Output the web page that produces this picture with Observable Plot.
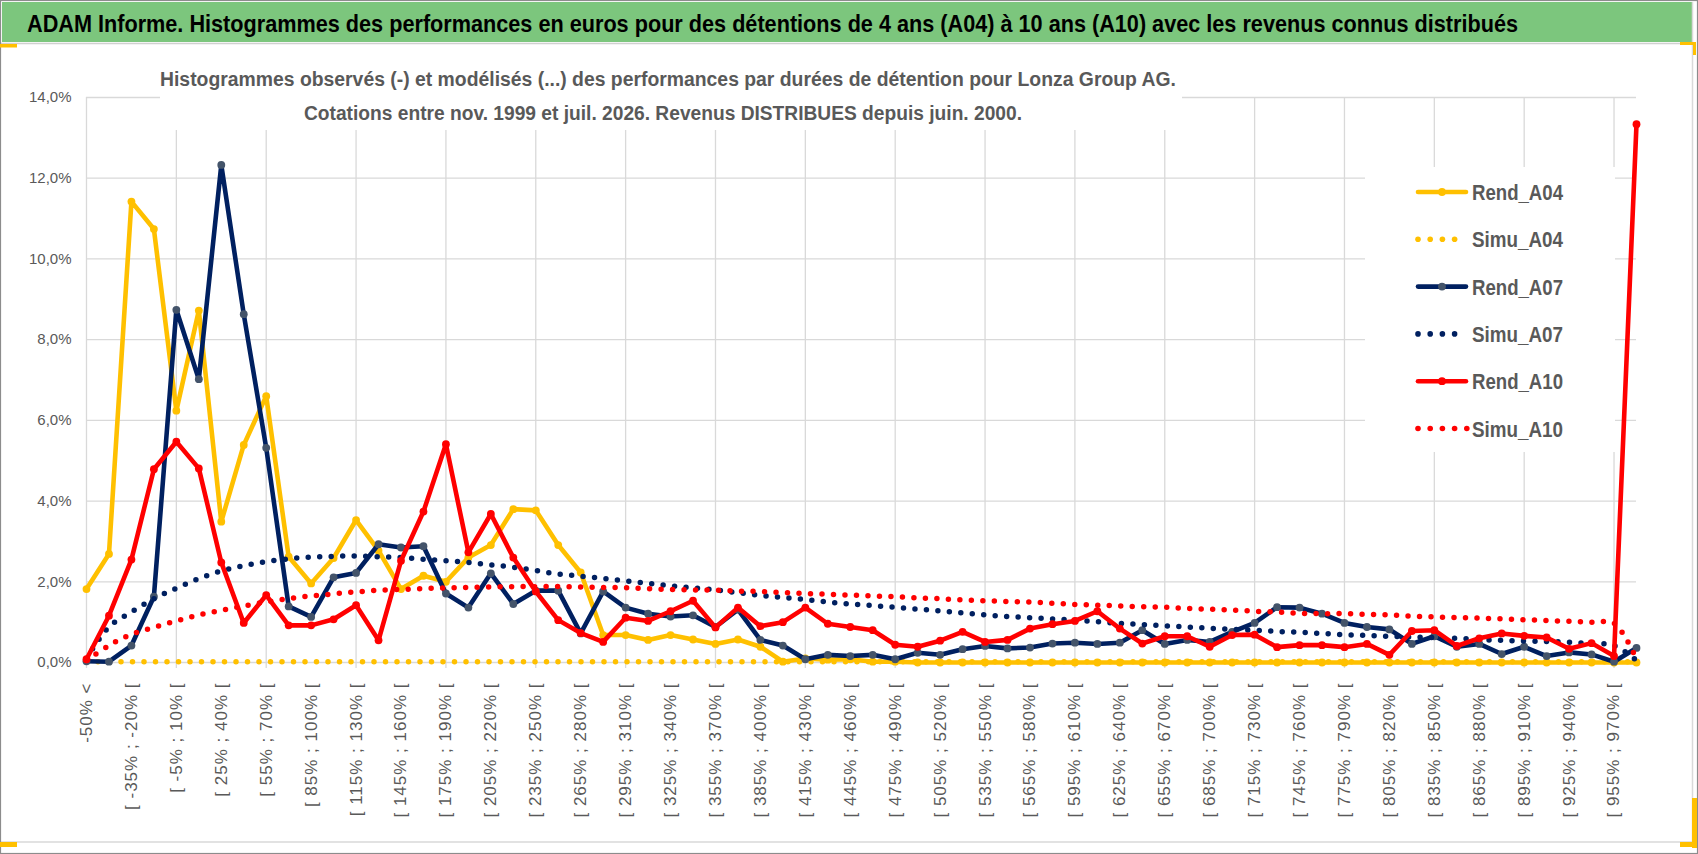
<!DOCTYPE html>
<html><head><meta charset="utf-8">
<script src="https://cdn.jsdelivr.net/npm/d3@7"></script>
<script src="https://cdn.jsdelivr.net/npm/@observablehq/plot@0.6"></script>
<style>
body{margin:0;background:#fff;}
#frame{position:relative;width:1698px;height:854px;overflow:hidden;background:#fff;font-family:"Liberation Sans",Arial,sans-serif;}
#plot{position:absolute;left:0;top:45px;}
#deco{position:absolute;left:0;top:0;pointer-events:none;}
#plot svg g[aria-label="x-axis tick label"] text{letter-spacing:1px;}
</style></head><body>
<div id="frame">
  <div id="plot"></div>
  <svg id="deco" width="1698" height="854"></svg>
</div>
<script>
const categories = [
"-50% <","[ -50% ; -35% [","[ -35% ; -20% [","[ -20% ; -5% [","[ -5% ; 10% [","[ 10% ; 25% [","[ 25% ; 40% [","[ 40% ; 55% [","[ 55% ; 70% [","[ 70% ; 85% [",
"[ 85% ; 100% [","[ 100% ; 115% [","[ 115% ; 130% [","[ 130% ; 145% [","[ 145% ; 160% [","[ 160% ; 175% [","[ 175% ; 190% [","[ 190% ; 205% [","[ 205% ; 220% [","[ 220% ; 235% [",
"[ 235% ; 250% [","[ 250% ; 265% [","[ 265% ; 280% [","[ 280% ; 295% [","[ 295% ; 310% [","[ 310% ; 325% [","[ 325% ; 340% [","[ 340% ; 355% [","[ 355% ; 370% [","[ 370% ; 385% [",
"[ 385% ; 400% [","[ 400% ; 415% [","[ 415% ; 430% [","[ 430% ; 445% [","[ 445% ; 460% [","[ 460% ; 475% [","[ 475% ; 490% [","[ 490% ; 505% [","[ 505% ; 520% [","[ 520% ; 535% [",
"[ 535% ; 550% [","[ 550% ; 565% [","[ 565% ; 580% [","[ 580% ; 595% [","[ 595% ; 610% [","[ 610% ; 625% [","[ 625% ; 640% [","[ 640% ; 655% [","[ 655% ; 670% [","[ 670% ; 685% [",
"[ 685% ; 700% [","[ 700% ; 715% [","[ 715% ; 730% [","[ 730% ; 745% [","[ 745% ; 760% [","[ 760% ; 775% [","[ 775% ; 790% [","[ 790% ; 805% [","[ 805% ; 820% [","[ 820% ; 835% [",
"[ 835% ; 850% [","[ 850% ; 865% [","[ 865% ; 880% [","[ 880% ; 895% [","[ 895% ; 910% [","[ 910% ; 925% [","[ 925% ; 940% [","[ 940% ; 955% [","[ 955% ; 970% [","970% >"
];

const rendA04 = [
1.82, 2.69, 11.42, 10.74, 6.24, 8.72, 3.49, 5.39, 6.60, 2.62,
1.96, 2.59, 3.53, 2.77, 1.82, 2.15, 2.00, 2.60, 2.91, 3.80,
3.77, 2.91, 2.23, 0.68, 0.68, 0.56, 0.68, 0.57, 0.46, 0.57,
0.39, 0.02, 0.10, 0.07, 0.08, 0.02, 0.02, 0, 0, 0,
0, 0, 0, 0, 0, 0, 0, 0, 0, 0,
0, 0, 0, 0, 0, 0, 0, 0, 0, 0,
0, 0, 0, 0, 0, 0, 0, 0, 0, 0];

const simuA04 = [
0.02, 0.02, 0.02, 0.02, 0.02, 0.02, 0.02, 0.02, 0.02, 0.02,
0.02, 0.02, 0.02, 0.02, 0.02, 0.02, 0.02, 0.02, 0.02, 0.02,
0.02, 0.02, 0.02, 0.02, 0.02, 0.02, 0.02, 0.02, 0.02, 0.02,
0.02, 0.02, 0.02, 0.02, 0.02, 0.02, 0.02, 0.02, 0.02, 0.02,
0.02, 0.02, 0.02, 0.02, 0.02, 0.02, 0.02, 0.02, 0.02, 0.02,
0.02, 0.02, 0.02, 0.02, 0.02, 0.02, 0.02, 0.02, 0.02, 0.02,
0.02, 0.02, 0.02, 0.02, 0.02, 0.02, 0.02, 0.02, 0.02, 0.02];

const rendA07 = [
0.03, 0.02, 0.42, 1.63, 8.74, 7.02, 12.33, 8.63, 5.32, 1.39,
1.13, 2.11, 2.22, 2.93, 2.85, 2.88, 1.71, 1.36, 2.21, 1.45,
1.78, 1.78, 0.72, 1.76, 1.36, 1.21, 1.14, 1.17, 0.88, 1.31,
0.56, 0.42, 0.08, 0.19, 0.16, 0.19, 0.08, 0.24, 0.19, 0.33,
0.41, 0.35, 0.37, 0.47, 0.49, 0.46, 0.49, 0.80, 0.46, 0.56,
0.51, 0.76, 0.98, 1.37, 1.36, 1.21, 0.98, 0.88, 0.82, 0.46,
0.65, 0.39, 0.46, 0.21, 0.39, 0.16, 0.25, 0.20, 0.02, 0.36];

const simuA07 = [
0.10, 0.88, 1.25, 1.58, 1.84, 2.08, 2.27, 2.40, 2.50, 2.57,
2.61, 2.63, 2.64, 2.62, 2.60, 2.56, 2.52, 2.48, 2.42, 2.36,
2.28, 2.19, 2.14, 2.08, 2.02, 1.96, 1.90, 1.85, 1.80, 1.73,
1.66, 1.61, 1.56, 1.50, 1.45, 1.41, 1.37, 1.32, 1.28, 1.23,
1.18, 1.14, 1.11, 1.08, 1.05, 1.01, 0.97, 0.94, 0.91, 0.88,
0.85, 0.82, 0.80, 0.77, 0.75, 0.72, 0.69, 0.67, 0.65, 0.63,
0.62, 0.60, 0.57, 0.55, 0.53, 0.52, 0.50, 0.47, 0.42, 0.05];

const rendA10 = [
0.08, 1.16, 2.55, 4.79, 5.47, 4.81, 2.48, 0.98, 1.67, 0.92,
0.92, 1.07, 1.42, 0.55, 2.52, 3.74, 5.41, 2.73, 3.68, 2.60,
1.76, 1.05, 0.73, 0.51, 1.11, 1.03, 1.27, 1.53, 0.87, 1.36,
0.90, 1.00, 1.36, 0.96, 0.88, 0.80, 0.44, 0.39, 0.54, 0.76,
0.51, 0.56, 0.84, 0.95, 1.03, 1.27, 0.84, 0.47, 0.65, 0.65,
0.39, 0.68, 0.69, 0.38, 0.43, 0.43, 0.38, 0.46, 0.19, 0.78,
0.80, 0.41, 0.60, 0.72, 0.66, 0.62, 0.34, 0.48, 0.16, 13.34];

const simuA10 = [
0.05, 0.42, 0.70, 0.87, 1.03, 1.18, 1.29, 1.40, 1.50, 1.58,
1.65, 1.70, 1.75, 1.79, 1.81, 1.83, 1.85, 1.86, 1.87, 1.88,
1.88, 1.88, 1.87, 1.86, 1.85, 1.83, 1.81, 1.80, 1.79, 1.77,
1.76, 1.73, 1.71, 1.69, 1.67, 1.65, 1.63, 1.60, 1.58, 1.55,
1.53, 1.51, 1.50, 1.47, 1.44, 1.42, 1.40, 1.38, 1.37, 1.34,
1.32, 1.30, 1.27, 1.25, 1.22, 1.21, 1.21, 1.19, 1.18, 1.15,
1.13, 1.11, 1.10, 1.08, 1.06, 1.04, 1.02, 1.00, 0.97, 0.08];

const yTicks = [0, 2, 4, 6, 8, 10, 12, 14];
const xTickLabels = categories.filter((d, i) => i % 2 === 0);
const gridCats = categories.filter((d, i) => i % 4 === 0);

const titleText = "ADAM Informe. Histogrammes des performances en euros pour des détentions de 4 ans (A04) à 10 ans (A10) avec les revenus connus distribués";
const subtitle1 = "Histogrammes observés (-) et modélisés (...) des performances par durées de détention pour Lonza Group AG.";
const subtitle2 = "Cotations entre nov. 1999 et juil. 2026. Revenus DISTRIBUES depuis juin. 2000.";

const YEL = "#FFC000", NAVY = "#002060", NAVYM = "#44546A", RED = "#FF0000";
const series = [
  {name: "Rend_A04", values: rendA04, color: YEL, marker: YEL, dotted: false},
  {name: "Simu_A04", values: simuA04, color: YEL, dotted: true},
  {name: "Rend_A07", values: rendA07, color: NAVY, marker: NAVYM, dotted: false},
  {name: "Simu_A07", values: simuA07, color: NAVY, dotted: true},
  {name: "Rend_A10", values: rendA10, color: RED, marker: RED, dotted: false},
  {name: "Simu_A10", values: simuA10, color: RED, dotted: true}
];
const rows = s => s.values.map((v, i) => ({cat: categories[i], v, name: s.name}));

const seriesMarks = [];
for (const s of series) {
  const data = rows(s);
  if (s.dotted) {
    seriesMarks.push(Plot.line(data, {x: "cat", y: "v", stroke: s.color, strokeWidth: 5.5,
      strokeDasharray: "0 11.5", strokeLinecap: "round", curve: "catmull-rom"}));
  } else {
    seriesMarks.push(Plot.line(data, {x: "cat", y: "v", stroke: s.color, strokeWidth: 4.6,
      strokeLinejoin: "round", strokeLinecap: "round"}));
    seriesMarks.push(Plot.dot(data, {x: "cat", y: "v", r: 3.9, fill: s.marker, stroke: "none"}));
  }
}

const chart = Plot.plot({
  width: 1698, height: 797,
  marginTop: 52, marginBottom: 180, marginLeft: 86, marginRight: 62,
  style: {fontFamily: "'Liberation Sans', Arial, sans-serif", background: "transparent", overflow: "visible"},
  x: {type: "point", domain: categories, padding: 0},
  y: {domain: [0, 14]},
  marks: [
    Plot.ruleY(yTicks, {stroke: "#d9d9d9", strokeWidth: 1.3}),
    Plot.ruleX(gridCats, {y1: -0.15, y2: 14, stroke: "#d9d9d9", strokeWidth: 1.3}),
    Plot.axisY({ticks: yTicks, tickSize: 0, tickPadding: 15, fontSize: 15, color: "#595959", label: null,
      tickFormat: d => d.toFixed(1).replace(".", ",") + "%"}),
    Plot.axisX({ticks: xTickLabels, tickSize: 0, tickPadding: 20, tickRotate: -90, fontSize: 17,
      color: "#595959", label: null}),
    ...seriesMarks
  ]
});
document.getElementById("plot").appendChild(chart);

// decorations: frame, title bar, chart title box, legend
const deco = d3.select("#deco");
deco.append("rect").attr("x", 2).attr("y", 2).attr("width", 1690).attr("height", 40).attr("fill", "#7CC67D");
deco.append("line").attr("x1", 0).attr("x2", 1692).attr("y1", 43.5).attr("y2", 43.5).attr("stroke", "#d0d0d0").attr("stroke-width", 1.5);
deco.append("line").attr("x1", 1692.5).attr("x2", 1692.5).attr("y1", 2).attr("y2", 842).attr("stroke", "#d9d9d9").attr("stroke-width", 1.5);
deco.append("line").attr("x1", 0).attr("x2", 1692).attr("y1", 842).attr("y2", 842).attr("stroke", "#d9d9d9").attr("stroke-width", 1.5);
deco.append("rect").attr("x", 0.5).attr("y", 0.5).attr("width", 1697).attr("height", 853).attr("fill", "none").attr("stroke", "#8c8c8c").attr("stroke-width", 1.2);
deco.append("text").attr("x", 27).attr("y", 32).attr("font-size", 24).attr("font-weight", "bold")
  .attr("fill", "#000").attr("textLength", 1491).attr("lengthAdjust", "spacingAndGlyphs")
  .attr("font-family", "'Liberation Sans Narrow','Liberation Sans',Arial,sans-serif").text(titleText);
// selection handles (yellow)
const Y2 = "#FFC000";
[[0, 44, 17, 3.5], [0, 842, 17, 5], [1680, 42, 16, 3], [1693, 42, 3, 13], [1692, 798, 5, 50], [1680, 842, 17, 5]]
  .forEach(([x, y, w, h]) => deco.append("rect").attr("x", x).attr("y", y).attr("width", w).attr("height", h).attr("fill", Y2));

// chart title box
deco.append("rect").attr("x", 160).attr("y", 62).attr("width", 1022).attr("height", 68).attr("fill", "#fff");
deco.append("text").attr("x", 160).attr("y", 86).attr("font-size", 20).attr("font-weight", "bold").attr("fill", "#595959")
  .attr("textLength", 1016).attr("lengthAdjust", "spacingAndGlyphs")
  .attr("font-family", "'Liberation Sans Narrow','Liberation Sans',Arial,sans-serif").text(subtitle1);
deco.append("text").attr("x", 304).attr("y", 120).attr("font-size", 20).attr("font-weight", "bold").attr("fill", "#595959")
  .attr("textLength", 718).attr("lengthAdjust", "spacingAndGlyphs")
  .attr("font-family", "'Liberation Sans Narrow','Liberation Sans',Arial,sans-serif").text(subtitle2);

// legend
deco.append("rect").attr("x", 1365).attr("y", 167).attr("width", 250).attr("height", 285).attr("fill", "#fff");
series.forEach((s, k) => {
  const base = 200 + k * 47.3;
  const cy = base - 8;
  if (s.dotted) {
    const n = s.name === "Simu_A10" ? 5 : 4;
    for (let j = 0; j < n; j++) deco.append("circle").attr("cx", 1418 + j * 12.2).attr("cy", cy).attr("r", 2.8).attr("fill", s.color);
  } else {
    deco.append("line").attr("x1", 1418).attr("x2", 1466).attr("y1", cy).attr("y2", cy)
      .attr("stroke", s.color).attr("stroke-width", 4.6).attr("stroke-linecap", "round");
    deco.append("circle").attr("cx", 1442).attr("cy", cy).attr("r", 3.9).attr("fill", s.marker);
  }
  deco.append("text").attr("x", 1472).attr("y", base).attr("font-size", 22).attr("font-weight", "bold")
    .attr("fill", "#595959").attr("textLength", 91).attr("lengthAdjust", "spacingAndGlyphs")
    .attr("font-family", "'Liberation Sans Narrow','Liberation Sans',Arial,sans-serif").text(s.name);
});
</script>
</body></html>
